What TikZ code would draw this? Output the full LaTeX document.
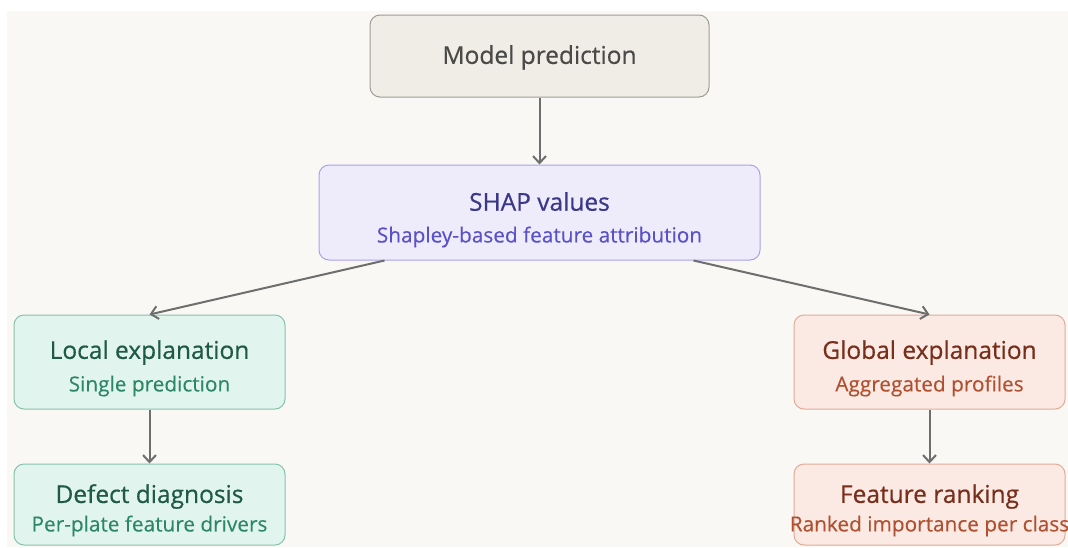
\documentclass[tikz,border=0pt]{standalone}
\usepackage{fontspec}
\setmainfont{Open Sans}
\newfontfamily\headfont[FakeBold=0.6]{Open Sans}
\newfontfamily\subfont[FakeBold=0.3]{Open Sans}
\usetikzlibrary{arrows.meta,calc}
\definecolor{pagebg}{HTML}{F9F8F5}
\definecolor{neutralfill}{HTML}{F0EDE6}
\definecolor{neutraldraw}{HTML}{A09D95}
\definecolor{neutraltext}{HTML}{4A4A48}
\definecolor{violetfill}{HTML}{EEECFB}
\definecolor{violetdraw}{HTML}{A9A2EA}
\definecolor{violettitle}{HTML}{3B3889}
\definecolor{violetsub}{HTML}{5A50C8}
\definecolor{greenfill}{HTML}{E2F4EE}
\definecolor{greendraw}{HTML}{86C2AC}
\definecolor{greentitle}{HTML}{1E5A46}
\definecolor{greensub}{HTML}{2C8767}
\definecolor{redfill}{HTML}{FBEAE4}
\definecolor{reddraw}{HTML}{E2AA98}
\definecolor{redtitle}{HTML}{772F1C}
\definecolor{redsub}{HTML}{B0502F}
\definecolor{linkgray}{HTML}{6E6E6E}
\tikzset{
  box/.style={draw, line width=1pt, rounded corners=10pt, inner sep=0pt, anchor=center},
  title/.style={font=\headfont\fontsize{24.5}{28}\selectfont, anchor=center, inner sep=0pt},
  sub/.style={font=\subfont\fontsize{20.8}{24}\selectfont, anchor=center, inner sep=0pt},
  link/.style={draw=linkgray, line width=2pt, -{Straight Barb[length=7pt,width=13pt,line width=2pt]}},
}
\begin{document}
\begin{tikzpicture}[x=1pt, y=-1pt]
\useasboundingbox (0,0) rectangle (1068,547);
\fill[pagebg] (7,11) rectangle (1068,547);

% boxes
\node[box, fill=neutralfill, draw=neutraldraw, minimum width=339pt, minimum height=82pt] (mp) at (539.5,56) {};
\node[box, fill=violetfill, draw=violetdraw, minimum width=441pt, minimum height=95pt] (shap) at (539.5,212.5) {};
\node[box, fill=greenfill, draw=greendraw, minimum width=271pt, minimum height=94pt] (loc) at (149.5,362) {};
\node[box, fill=greenfill, draw=greendraw, minimum width=271pt, minimum height=81pt] (def) at (149.5,504.5) {};
\node[box, fill=redfill, draw=reddraw, minimum width=271pt, minimum height=94pt] (glob) at (929.5,362) {};
\node[box, fill=redfill, draw=reddraw, minimum width=271pt, minimum height=81pt] (feat) at (929.5,504.5) {};

% labels
\node[title, text=neutraltext] (mpT) at (539.5,57.5) {Model prediction};
\node[title, text=violettitle] (shapT) at (539.5,201.5) {SHAP values};
\node[sub, text=violetsub] (shapS) at (539.5,237) {Shapley-based feature attribution};
\node[title, text=greentitle] (locT) at (149.5,352.5) {Local explanation};
\node[sub, text=greensub] (locS) at (149.5,386) {Single prediction};
\node[title, text=greentitle] (defT) at (149.5,496.5) {Defect diagnosis};
\node[sub, text=greensub] (defS) at (149.5,526) {Per-plate feature drivers};
\node[title, text=redtitle] (globT) at (929.5,352.5) {Global explanation};
\node[sub, text=redsub] (globS) at (929.5,386) {Aggregated profiles};
\node[title, text=redtitle] (featT) at (929.5,496.5) {Feature ranking};
\node[sub, text=redsub] (featS) at (929.5,526) {Ranked importance per class};

% connectors
\draw[link] (mp.south) -- (shap.north);
\draw[link] ($(shap.south west)+(66,0)$) -- (loc.north);
\draw[link] ($(shap.south east)+(-67,0)$) -- (glob.north);
\draw[link] (loc.south) -- (def.north);
\draw[link] (glob.south) -- (feat.north);
\end{tikzpicture}
\end{document}
